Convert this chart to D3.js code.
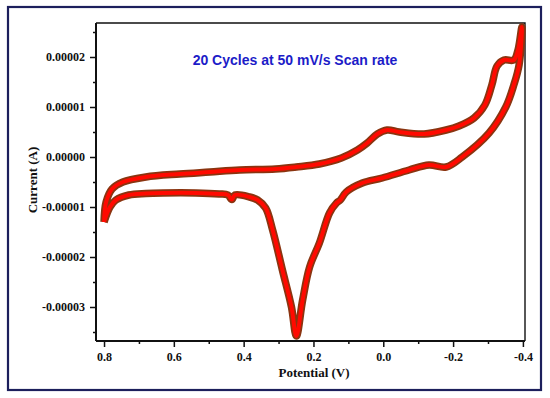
<!DOCTYPE html>
<html>
<head>
<meta charset="utf-8">
<script src="https://cdn.jsdelivr.net/npm/d3@7"></script>
<style>
  body { margin: 0; background: #fff; }
  svg { display: block; }
</style>
</head>
<body>
<svg id="chart" width="550" height="398"></svg>
<script>
// forward sweep: from 0.8 V towards -0.4 V (lower branch, reduction peak)
const sweepV = [0.800, 0.783, 0.766, 0.729, 0.680, 0.631, 0.537, 0.470, 0.445, 0.434, 0.425, 0.383, 0.360, 0.337, 0.317, 0.289, 0.263, 0.249, 0.231, 0.211, 0.183, 0.154, 0.134, 0.123, 0.106, 0.060, 0.003, -0.074, -0.131, -0.180, -0.226, -0.303, -0.351, -0.374, -0.389, -0.397];
const sweepI = [-1.30e-5, -1.00e-5, -0.86e-5, -0.76e-5, -0.73e-5, -0.72e-5, -0.72e-5, -0.74e-5, -0.76e-5, -0.85e-5, -0.76e-5, -0.80e-5, -0.86e-5, -1.02e-5, -1.46e-5, -2.26e-5, -3.00e-5, -3.58e-5, -2.86e-5, -2.20e-5, -1.72e-5, -1.12e-5, -0.92e-5, -0.86e-5, -0.70e-5, -0.52e-5, -0.42e-5, -0.26e-5, -0.16e-5, -0.20e-5, 0.00e-5, 0.48e-5, 1.00e-5, 1.44e-5, 1.84e-5, 2.60e-5];

// return sweep: from -0.4 V back to 0.8 V (upper branch)
const returnV = [-0.397, -0.386, -0.374, -0.346, -0.326, -0.311, -0.291, -0.260, -0.217, -0.180, -0.117, -0.046, -0.011, 0.017, 0.046, 0.074, 0.120, 0.183, 0.249, 0.309, 0.411, 0.497, 0.583, 0.680, 0.746, 0.777, 0.794, 0.800];
const returnI = [2.60e-5, 2.14e-5, 1.94e-5, 1.94e-5, 1.82e-5, 1.44e-5, 1.04e-5, 0.78e-5, 0.62e-5, 0.54e-5, 0.46e-5, 0.50e-5, 0.54e-5, 0.46e-5, 0.28e-5, 0.14e-5, -0.02e-5, -0.14e-5, -0.20e-5, -0.24e-5, -0.26e-5, -0.30e-5, -0.34e-5, -0.40e-5, -0.50e-5, -0.64e-5, -0.90e-5, -1.30e-5];

const xTicks = [0.8, 0.6, 0.4, 0.2, 0.0, -0.2, -0.4];
const yTicks = [0.00002, 0.00001, 0, -0.00001, -0.00002, -0.00003];
const xTickLabels = ['0.8', '0.6', '0.4', '0.2', '0.0', '-0.2', '-0.4'];
const yTickLabels = ['0.00002', '0.00001', '0.00000', '-0.00001', '-0.00002', '-0.00003'];

const svg = d3.select('#chart');
const margin = { left: 96, top: 23, right: 25, bottom: 57 };
const width = 550 - margin.left - margin.right;
const height = 398 - margin.top - margin.bottom;

// outer frame
svg.append('rect')
  .attr('x', 8).attr('y', 7)
  .attr('width', 533).attr('height', 383)
  .attr('fill', '#fff')
  .attr('stroke', '#1c1f5c')
  .attr('stroke-width', 2.2);

const x = d3.scaleLinear().domain([0.823, -0.406]).range([0, width]);
const y = d3.scaleLinear().domain([-3.68e-5, 2.68e-5]).range([height, 0]);

const g = svg.append('g')
  .attr('transform', `translate(${margin.left}, ${margin.top})`);

// top / right frame lines
g.append('path')
  .attr('d', `M0,0H${width}V${height}`)
  .attr('fill', 'none')
  .attr('stroke', '#111')
  .attr('stroke-width', 1.4);

// minor ticks
const xMinor = [0.7, 0.5, 0.3, 0.1, -0.1, -0.3];
const yMinor = [0.000025, 0.000015, 0.000005, -0.000005, -0.000015, -0.000025, -0.000035];

const xAxis = g.append('g')
  .attr('transform', `translate(0, ${height})`)
  .call(d3.axisBottom(x).tickValues(xTicks).tickSize(6).tickPadding(5)
    .tickFormat((d, i) => xTickLabels[i]));
g.append('g')
  .attr('transform', `translate(0, ${height})`)
  .call(d3.axisBottom(x).tickValues(xMinor).tickSize(3).tickFormat(''))
  .call(a => a.select('.domain').remove());

const yAxis = g.append('g')
  .call(d3.axisLeft(y).tickValues(yTicks).tickSize(6).tickPadding(5)
    .tickFormat((d, i) => yTickLabels[i]));
g.append('g')
  .call(d3.axisLeft(y).tickValues(yMinor).tickSize(3).tickFormat(''))
  .call(a => a.select('.domain').remove());

g.selectAll('.domain')
  .attr('d', null);
xAxis.select('.domain').attr('d', `M0,0H${width}`);
yAxis.select('.domain').attr('d', `M0,0V${height}`);

g.selectAll('.domain')
  .attr('stroke', '#111')
  .attr('stroke-width', 2);
g.selectAll('.tick line')
  .attr('stroke', '#111')
  .attr('stroke-width', 1.5);
g.selectAll('.tick text')
  .attr('fill', '#111')
  .style('font-family', '"Liberation Serif", "Times New Roman", serif')
  .style('font-size', '12px')
  .style('font-weight', 'bold');

// CV loop
const loop = sweepV.map((v, i) => [v, sweepI[i]])
  .concat(returnV.slice(1).map((v, i) => [v, returnI[i + 1]]));

const line = d3.line()
  .x(d => x(d[0]))
  .y(d => y(d[1]))
  .curve(d3.curveCatmullRom.alpha(0.5));

g.append('path')
  .datum(loop)
  .attr('d', line)
  .attr('fill', 'none')
  .attr('stroke', '#8a3410')
  .attr('stroke-width', 7.5)
  .attr('stroke-linejoin', 'round');

g.append('path')
  .datum(loop)
  .attr('d', line)
  .attr('fill', 'none')
  .attr('stroke', '#ff0a00')
  .attr('stroke-width', 4)
  .attr('stroke-linejoin', 'round');

// title
g.append('text')
  .attr('x', 295 - margin.left)
  .attr('y', 65 - margin.top)
  .attr('text-anchor', 'middle')
  .style('font-family', '"Liberation Sans", Arial, sans-serif')
  .style('font-size', '14px')
  .style('font-weight', 'bold')
  .style('fill', '#1c1cc8')
  .text('20 Cycles at 50 mV/s Scan rate');

// axis labels
svg.append('text')
  .attr('x', 314)
  .attr('y', 377)
  .attr('text-anchor', 'middle')
  .style('font-family', '"Liberation Serif", "Times New Roman", serif')
  .style('font-size', '13px')
  .style('font-weight', 'bold')
  .style('fill', '#111')
  .text('Potential (V)');

svg.append('text')
  .attr('transform', 'translate(37, 180) rotate(-90)')
  .attr('text-anchor', 'middle')
  .style('font-family', '"Liberation Serif", "Times New Roman", serif')
  .style('font-size', '13px')
  .style('font-weight', 'bold')
  .style('fill', '#111')
  .text('Current (A)');
</script>
</body>
</html>
